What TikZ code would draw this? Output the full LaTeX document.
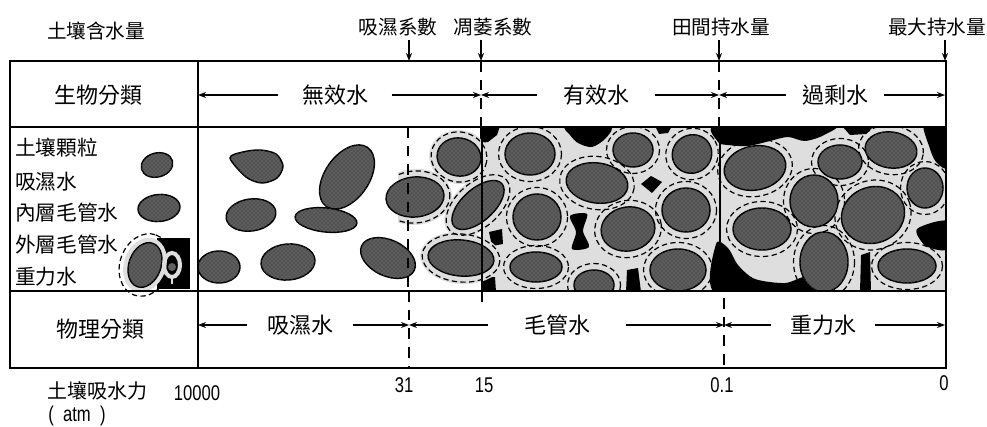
\documentclass[tikz,border=0pt]{standalone}
\usepackage{fontspec}
\usetikzlibrary{arrows.meta,patterns}
\newfontfamily\cjk{Noto Sans CJK TC}
\newfontfamily\narrow[FakeStretch=0.78]{Liberation Sans}
\begin{document}
\begin{tikzpicture}[x=0.75pt,y=-0.75pt,
  tbl/.style={line width=1.1pt},
  tip/.style={-{Stealth[length=6pt,width=4.5pt]}, line width=0.9pt},
  dsh/.style={line width=0.9pt, dash pattern=on 8pt off 6pt},
  toplab/.style={font=\cjk\fontsize{14.7pt}{16pt}\selectfont, inner sep=0pt},
  rowlab/.style={font=\cjk\fontsize{16.5pt}{18pt}\selectfont, inner ysep=0pt},
  keylab/.style={font=\cjk\fontsize{15.5pt}{17pt}\selectfont, inner sep=0pt, anchor=west},
  num/.style={font=\narrow\fontsize{16pt}{18pt}\selectfont, inner sep=0pt},
  grain/.style={fill=black!68, draw=black, line width=1.1pt,
    postaction={pattern=crosshatch dots, pattern color=black!48}},
  film/.style={fill=black!13},
  ring/.style={draw=black, line width=0.9pt, dash pattern=on 4pt off 2.5pt},
]
\useasboundingbox (0,0) rectangle (987,427);

% particle sets: x/y/semi-axis a/semi-axis b/rotation
\def\dryg{347/177/36/22/55, 251/215/25/16/8, 326/220/31/12/-6, 219/267/21/16/0, 288/262/27/18/5, 388/258/29/18/-25}
\def\thing{415/197/29/20/5, 459/157/22/19/-10, 478/205/32/16/42, 461/258/33/18/-5}
\def\wetg{530/154/25/21/0, 537/217/24/23/0, 536/267/26/15/0, 597/183/31/20/-8, 633/150/20/17/0, 628/229/27/22/10, 692/154/20/19/30, 686/210/24/22/0, 678/270/28/21/0, 594/285/20/15/0, 755/168/31/22/10, 762/229/29/21/0, 840/162/22/17/0, 891/150/26/18/-8, 814/201/24/26/0, 873/215/32/28/20, 925/188/18/20/0, 824/262/24/30/0, 907/266/29/17/0}

% ---------- soil row ----------
\begin{scope}
  \clip (198,127) rectangle (946,291);
  % water-filled pore space with air gaps
  \fill[black!13] (482,127) rectangle (946,291);
  \begin{scope}[black]
    \fill (480,126) -- (500,126) -- (497,135) -- (488,142) -- (480,143) -- cycle;
    \fill plot[smooth cycle] coordinates {(566,126) (610,126) (606,138) (592,147) (578,143) (570,135)};
    \fill (641,184) -- (651,176) -- (662,182) -- (652,193) -- cycle;
    \fill plot[smooth cycle] coordinates {(570,216) (587,214) (583,231) (589,247) (572,249) (576,232)};
    \fill (627,270) -- (638,268) -- (641,292) -- (626,292) -- cycle;
    \fill (655,126) -- (672,126) -- (668,133) -- (659,134) -- cycle;
    \fill plot[smooth cycle] coordinates {(718,124) (832,124) (824,135) (805,141) (788,137) (770,141) (748,146) (728,145) (718,142)};
    \fill (842,126) -- (874,126) -- (866,134) -- (850,135) -- cycle;
    \fill plot[smooth cycle] coordinates {(924,124) (948,124) (948,167) (936,162) (929,146)};
    \fill plot[smooth cycle] coordinates {(917,229) (948,221) (948,249) (926,246)};
    \fill plot[smooth cycle] coordinates {(716,244) (728,248) (738,265) (755,279) (785,283) (806,277) (810,294) (716,294)};
    \fill (861,255) -- (870,252) -- (871,292) -- (860,292) -- cycle;
    \fill (489,232) -- (502,229) -- (503,244) -- (492,246) -- cycle;
    \fill (482,278) -- (495,277) -- (496,292) -- (482,292) -- cycle;
  \end{scope}
  % thin films on the transition grains
  \begin{scope}
    \clip (398,127) rectangle (946,291);
    \foreach \x/\y/\a/\b/\r in \thing
      \fill[film, shift={(\x,\y)}, rotate=\r] (0,0) ellipse [x radius=\a+8, y radius=\b+8];
    \foreach \x/\y/\a/\b/\r in \thing
      \draw[ring, shift={(\x,\y)}, rotate=\r] (0,0) ellipse [x radius=\a+6, y radius=\b+6];
    \foreach \x/\y/\a/\b/\r in \wetg
      \draw[ring, shift={(\x,\y)}, rotate=\r] (0,0) ellipse [x radius=\a+6.5, y radius=\b+6.5];
  \end{scope}
  % soil grains
  \filldraw[grain] plot[smooth cycle] coordinates {(230,158) (243,152) (260,150) (276,154) (283,166) (277,178) (262,183) (246,177)};
  \foreach \x/\y/\a/\b/\r in \dryg
    \filldraw[grain, shift={(\x,\y)}, rotate=\r] (0,0) ellipse [x radius=\a, y radius=\b];
  \foreach \x/\y/\a/\b/\r in \thing
    \filldraw[grain, shift={(\x,\y)}, rotate=\r] (0,0) ellipse [x radius=\a, y radius=\b];
  \foreach \x/\y/\a/\b/\r in \wetg
    \filldraw[grain, shift={(\x,\y)}, rotate=\r] (0,0) ellipse [x radius=\a, y radius=\b];
\end{scope}

% ---------- key pictures ----------
\filldraw[grain, shift={(157,165)}, rotate=15] (0,0) ellipse [x radius=16, y radius=12];
\filldraw[grain, shift={(159,208)}, rotate=5] (0,0) ellipse [x radius=21, y radius=13.5];
\draw[ring, shift={(145,265)}, rotate=70] (0,0) ellipse [x radius=32, y radius=25];
\fill[black] (157,238) rectangle (190,289);
\fill[film, shift={(145,265)}, rotate=70] (0,0) ellipse [x radius=28, y radius=21];
\filldraw[grain, shift={(145,265)}, rotate=70] (0,0) ellipse [x radius=23, y radius=16];
\draw[black!13, line width=3pt] (172,265) ellipse [x radius=8, y radius=12];
\draw[black!13, line width=2pt] (172,276) -- (172,284);
\fill[black!62] (172,267) circle [radius=4];

% ---------- table frame ----------
\draw[tbl] (10,61) rectangle (946,368);
\draw[tbl] (10,127) -- (946,127);
\draw[tbl] (10,291) -- (946,291);
\draw[tbl] (198,61) -- (198,368);

% boundary marks
\coordinate (t1) at (409,61);
\coordinate (t2) at (481,61);
\coordinate (t3) at (719,61);
\coordinate (t4) at (945,61);
\draw[dsh] (481,61) -- (481,127);
\draw[dsh] (719,61) -- (719,127);
\draw[dsh] (408,127) -- (408,291);
\draw[line width=0.8pt] (482,127) -- (482,302);
\draw[line width=0.8pt] (720,127) -- (720,291);
\draw[dsh] (409,291) -- (409,368);
\draw[dsh] (724,298) -- (724,368);

% ---------- header labels ----------
\node[toplab] (swc) at (96,31) {土壤含水量};
\node[toplab] (hyg) at (398,27) {吸濕系數};
\node[toplab] (wilt) at (493,27) {凋萎系數};
\node[toplab] (fc) at (721,27) {田間持水量};
\node[toplab] (mx) at (937,27) {最大持水量};
\draw[tip] ([yshift=-3pt]hyg.south -| t1) -- (t1);
\draw[tip] ([yshift=-3pt]wilt.south -| t2) -- (t2);
\draw[tip] ([yshift=-3pt]fc.south -| t3) -- (t3);
\draw[tip] ([yshift=-3pt]mx.south -| t4) -- (t4);

% ---------- biological classes ----------
\node[rowlab, inner xsep=0pt] (bio) at (98,95) {生物分類};
\node[rowlab, inner xsep=17.5pt] (ua) at (335,95) {無效水};
\node[rowlab, inner xsep=19.5pt] (av) at (596,95) {有效水};
\node[rowlab, inner xsep=12pt] (ex) at (835,95) {過剩水};
\coordinate (b1) at (198,95);
\coordinate (b2) at (481,95);
\coordinate (b3) at (719,95);
\coordinate (b4) at (945,95);
\draw[tip] (ua) -- (b1);
\draw[tip] (ua) -- (b2);
\draw[tip] (av) -- (b2);
\draw[tip] (av) -- (b3);
\draw[tip] (ex) -- (b3);
\draw[tip] (ex) -- (b4);

% ---------- key ----------
\node[keylab] (k1) at (15,148) {土壤顆粒};
\node[keylab] (k2) at (15,182) {吸濕水};
\node[keylab] (k3) at (15,213) {內層毛管水};
\node[keylab] (k4) at (15,245) {外層毛管水};
\node[keylab] (k5) at (15,277) {重力水};

% ---------- physical classes ----------
\node[rowlab, inner xsep=0pt] (phy) at (100,329) {物理分類};
\node[rowlab, inner xsep=15pt] (hw) at (300,325) {吸濕水};
\node[rowlab, inner xsep=27pt] (cw) at (557,325) {毛管水};
\node[rowlab, inner xsep=14pt] (gw) at (823,325) {重力水};
\coordinate (p1) at (198,325);
\coordinate (p2) at (409,325);
\coordinate (p3) at (724,325);
\coordinate (p4) at (945,325);
\draw[tip] (hw) -- (p1);
\draw[tip] (hw) -- (p2);
\draw[tip] (cw) -- (p2);
\draw[tip] (cw) -- (p3);
\draw[tip] (gw) -- (p3);
\draw[tip] (gw) -- (p4);

% ---------- suction scale ----------
\node[toplab, font=\cjk\fontsize{15pt}{17pt}\selectfont] (suc) at (97,391) {土壤吸水力};
\node[num] (atm) at (77,416) {(\ \ atm\ \ )};
\node[num] (s1) at (197,393) {10000};
\node[num] (s2) at (404,385) {31};
\node[num] (s3) at (484,385) {15};
\node[num] (s4) at (722,385) {0.1};
\node[num] (s5) at (944,383) {0};
\end{tikzpicture}
\end{document}
